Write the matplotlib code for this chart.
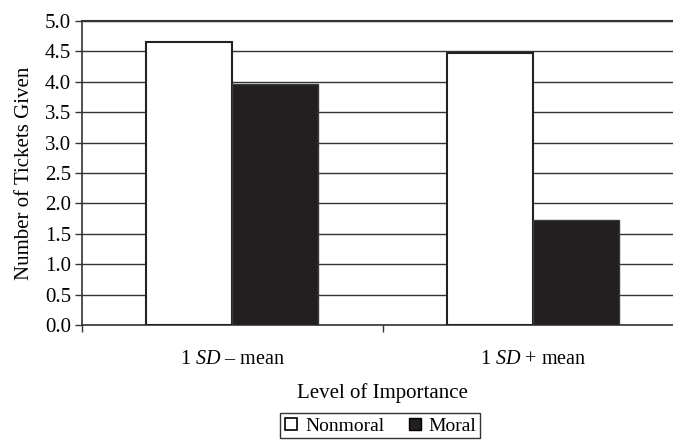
import matplotlib.pyplot as plt
from matplotlib.lines import Line2D

categories = ["1 $\\it{SD}$ \u2013 mean", "1 $\\it{SD}$ + mean"]
nonmoral = [4.65, 4.47]
moral = [3.96, 1.73]
y_ticks = [0.0, 0.5, 1.0, 1.5, 2.0, 2.5, 3.0, 3.5, 4.0, 4.5, 5.0]

plt.rcParams["font.family"] = ["Liberation Serif", "DejaVu Serif"]
plt.rcParams["mathtext.fontset"] = "custom"
plt.rcParams["mathtext.it"] = "Liberation Serif:italic"
plt.rcParams["mathtext.rm"] = "Liberation Serif"

fig = plt.figure(figsize=(6.73, 4.40), dpi=100)
ax = fig.add_axes([82 / 673, 1 - 325 / 440, 601 / 673, 304 / 440])

w = 0.286
x = list(range(len(categories)))
ax.bar([i - w / 2 for i in x], nonmoral, width=w, color="white",
       edgecolor="#222222", linewidth=1.5, zorder=3)
ax.bar([i + w / 2 for i in x], moral, width=w, color="#231f20",
       edgecolor="#3a3a3a", linewidth=1.0, zorder=3)

ax.set_xlim(-0.5, 1.5)
ax.set_ylim(0, 5.0)
ax.set_yticks(y_ticks)
ax.set_yticklabels([f"{v:.1f}" for v in y_ticks])
ax.yaxis.grid(True, color="#333333", linewidth=1.0, zorder=0)
ax.set_axisbelow(True)

ax.set_xticks([-0.5, 0.5, 1.5])
ax.set_xticklabels(["", "", ""])
ax.set_xticks(x, minor=True)
ax.set_xticklabels(categories, minor=True)
ax.tick_params(axis="x", which="minor", length=0, pad=18, labelsize=14.5)
ax.tick_params(axis="x", which="major", length=5, width=1, color="#333333")
ax.tick_params(axis="y", length=5, width=1, color="#333333", labelsize=15, pad=3)

ax.spines["right"].set_visible(False)
ax.spines["top"].set_linewidth(1.5)
ax.spines["top"].set_color("#333333")
ax.spines["left"].set_color("#333333")
ax.spines["left"].set_linewidth(1.2)
ax.spines["bottom"].set_color("#333333")
ax.spines["bottom"].set_linewidth(1.2)

ax.set_ylabel("Number of Tickets Given", fontsize=15, labelpad=8)
ax.set_xlabel("Level of Importance", fontsize=15, labelpad=10)

handles = [
    Line2D([], [], marker="s", linestyle="none", markersize=9,
           markerfacecolor="white", markeredgecolor="black", markeredgewidth=1.2),
    Line2D([], [], marker="s", linestyle="none", markersize=9,
           markerfacecolor="#231f20", markeredgecolor="black"),
]
leg = fig.legend(handles, ["Nonmoral", "Moral"], loc="upper center",
                 bbox_to_anchor=(380 / 673, 1 - 413 / 440), ncol=2,
                 fontsize=14, frameon=True, fancybox=False,
                 handlelength=0.8, handletextpad=0.3, columnspacing=1.2,
                 borderpad=0.2, borderaxespad=0)
leg.get_frame().set_edgecolor("black")
leg.get_frame().set_linewidth(1.0)

fig.savefig("out.png", dpi=100)
